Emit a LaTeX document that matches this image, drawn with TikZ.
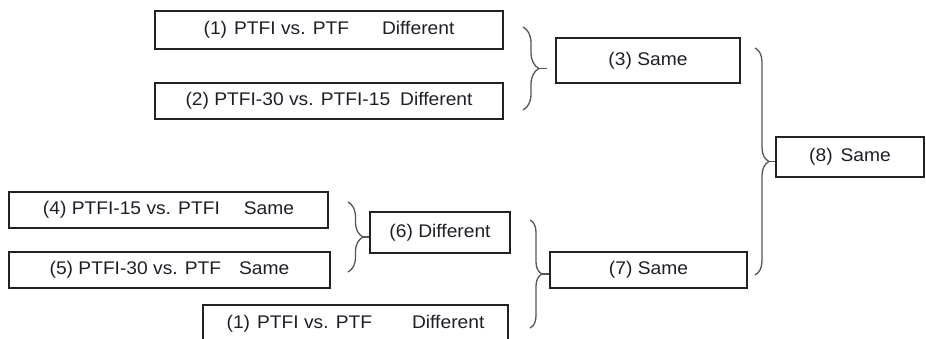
\documentclass[tikz,border=0pt]{standalone}
\usepackage{fontspec}
\setmainfont{Liberation Sans}[FakeStretch=1.05]
\usetikzlibrary{decorations.pathreplacing}
\definecolor{boxline}{HTML}{222222}
\definecolor{braceline}{HTML}{555555}
\definecolor{labeltext}{HTML}{1E1E28}
\tikzset{
  result/.style={draw=boxline, line width=1.3pt, rectangle, inner sep=0pt,
    text=labeltext, font=\fontsize{18.3}{20}\selectfont},
  groupbrace/.style={draw=braceline, line width=1.3pt,
    decorate, decoration={brace, amplitude=#1}},
  stub/.style={draw=braceline, line width=1.3pt}
}
\begin{document}
\begin{tikzpicture}[x=1pt, y=-1pt]
\clip (0,0) rectangle (926,338);

% first-level comparisons
\node[result, minimum width=348pt, minimum height=38pt] (b1) at (329,30)
  {(1)\hspace{7pt}PTFI vs. PTF\hspace{33pt}Different};
\node[result, minimum width=348pt, minimum height=36pt] (b2) at (329,101)
  {(2) PTFI-30 vs. PTFI-15\hspace{10pt}Different};
\node[result, minimum width=319pt, minimum height=36pt] (b4) at (168.5,210)
  {(4) PTFI-15 vs. PTFI\hspace{24pt}Same};
\node[result, minimum width=321pt, minimum height=36pt] (b5) at (169.5,270)
  {(5) PTFI-30 vs. PTF\hspace{18pt}Same};
\node[result, minimum width=305pt, minimum height=38pt] (b1b) at (355.5,324)
  {(1)\hspace{7pt}PTFI vs. PTF\hspace{40pt}Different};

% combined results
\node[result, minimum width=184pt, minimum height=45pt] (b3) at (648,60.5) {(3) Same};
\node[result, minimum width=140pt, minimum height=41pt] (b6) at (440,232.5) {(6) Different};
\node[result, minimum width=197pt, minimum height=36pt] (b7) at (648.5,270) {(7) Same};
\node[result, minimum width=148pt, minimum height=40pt] (b8) at (850,157) {(8)\hspace{8pt}Same};

% brace end points and tips
\coordinate (g1a) at (523,27);  \coordinate (g1b) at (523,110); \coordinate (g1t) at (539,68.5);
\coordinate (g2a) at (755,48);  \coordinate (g2b) at (755,275); \coordinate (g2t) at (769,161.5);
\coordinate (g3a) at (348,202); \coordinate (g3b) at (348,272); \coordinate (g3t) at (363,237);
\coordinate (g4a) at (530,220); \coordinate (g4b) at (530,328); \coordinate (g4t) at (542,274);

% braces grouping the comparisons
\draw[groupbrace=16pt] (g1a) -- (g1b);
\draw[stub, shorten >=8pt] (g1t) -- (g1t -| b3.west);
\draw[groupbrace=14pt] (g2a) -- (g2b);
\draw[stub] (g2t) -- (g2t -| b8.west);
\draw[groupbrace=15pt] (g3a) -- (g3b);
\draw[stub] (g3t) -- (g3t -| b6.west);
\draw[groupbrace=12pt] (g4a) -- (g4b);
\draw[stub] (g4t) -- (g4t -| b7.west);
\end{tikzpicture}
\end{document}
